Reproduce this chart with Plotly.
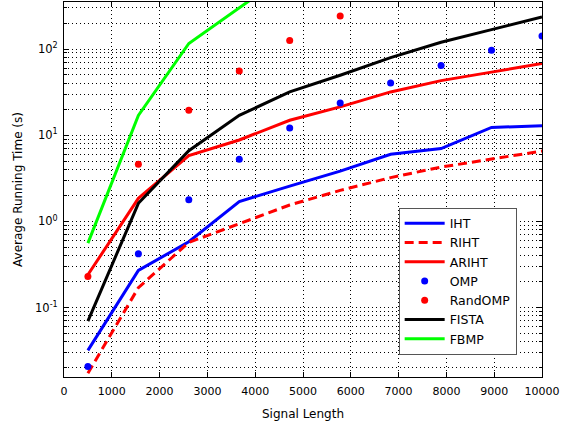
import plotly.graph_objects as go

signal_length = [500, 1556, 2611, 3667, 4722, 5778, 6833, 7889, 8944, 10000]

iht = [0.0318, 0.27, 0.58, 1.7, 2.57, 3.83, 6.0, 7.0, 12.3, 12.9]
riht = [0.0173, 0.17, 0.57, 0.94, 1.55, 2.29, 3.22, 4.27, 5.25, 6.55]
ariht = [0.24, 1.85, 5.8, 8.8, 14.9, 21.3, 31.8, 43, 54, 68]
omp = [0.0207, 0.42, 1.78, 5.25, 12.1, 23.7, 40.4, 64.3, 96.8, 142]
randomp_x = [500, 1556, 2611, 3667, 4722, 5778]
randomp = [0.23, 4.59, 19.5, 55.7, 126, 242]
fista = [0.0695, 1.62, 6.6, 17.0, 31.8, 49.6, 79.6, 120, 168, 236]
fbmp_x = [500, 1556, 2611, 3667, 4722]
fbmp = [0.56, 17.0, 116, 300, 780]

y_tick_vals = [0.1, 1, 10, 100]
y_tick_text = ["10<sup>-1</sup>", "10<sup>0</sup>", "10<sup>1</sup>", "10<sup>2</sup>"]
y_minor_vals = [m * 10 ** e for e in range(-2, 3) for m in range(2, 10)]

FONT = "DejaVu Sans, sans-serif"

fig = go.Figure()
fig.add_trace(go.Scatter(x=signal_length, y=iht, name="IHT", mode="lines",
                         line=dict(color="#0000ff", width=3)))
fig.add_trace(go.Scatter(x=signal_length, y=riht, name="RIHT", mode="lines",
                         line=dict(color="#ff0000", width=3, dash="9px,5px")))
fig.add_trace(go.Scatter(x=signal_length, y=ariht, name="ARIHT", mode="lines",
                         line=dict(color="#ff0000", width=3)))
fig.add_trace(go.Scatter(x=signal_length, y=omp, name="OMP", mode="markers",
                         marker=dict(color="#0000ff", size=7, symbol="circle")))
fig.add_trace(go.Scatter(x=randomp_x, y=randomp, name="RandOMP", mode="markers",
                         marker=dict(color="#ff0000", size=7, symbol="circle")))
fig.add_trace(go.Scatter(x=signal_length, y=fista, name="FISTA", mode="lines",
                         line=dict(color="#000000", width=3)))
fig.add_trace(go.Scatter(x=fbmp_x, y=fbmp, name="FBMP", mode="lines",
                         line=dict(color="#00ff00", width=3)))

grid_dash = "1px,3px"
fig.update_layout(
    width=574, height=423,
    margin=dict(l=63.5, r=32, t=2, b=46.3, autoexpand=False),
    paper_bgcolor="white", plot_bgcolor="white",
    font=dict(family=FONT, size=11, color="black"),
    showlegend=True,
    legend=dict(x=0.947, y=0.06, xanchor="right", yanchor="bottom",
                bgcolor="white", bordercolor="#555555", borderwidth=1,
                font=dict(size=12.5), tracegroupgap=0, itemwidth=40),
    xaxis=dict(range=[0, 10000], dtick=1000, tick0=0, tickformat="d",
               automargin=False, ticklabelstandoff=4,
               showline=True, linecolor="black", linewidth=1, mirror="ticks",
               ticks="inside", ticklen=5, tickcolor="black",
               showgrid=True, gridcolor="black", gridwidth=1, griddash=grid_dash,
               zeroline=False,
               title=dict(text="Signal Length", font=dict(size=12), standoff=12)),
    yaxis=dict(type="log", range=[-1.806, 2.546],
               tickmode="array", tickvals=y_tick_vals, ticktext=y_tick_text,
               tickfont=dict(size=11.5), ticklabelstandoff=3,
               automargin=False,
               showline=True, linecolor="black", linewidth=1, mirror="ticks",
               ticks="inside", ticklen=5, tickcolor="black",
               showgrid=True, gridcolor="black", gridwidth=1, griddash=grid_dash,
               zeroline=False,
               minor=dict(tickmode="array", tickvals=y_minor_vals, showgrid=True,
                          gridcolor="black", griddash=grid_dash, gridwidth=1,
                          ticks="inside", ticklen=3, tickcolor="black"),
               title=dict(text="Average Running Time (s)", font=dict(size=12), standoff=9)),
)

fig.write_html("out.html", config={"displayModeBar": False},
               post_script="document.body.style.margin='0';")
